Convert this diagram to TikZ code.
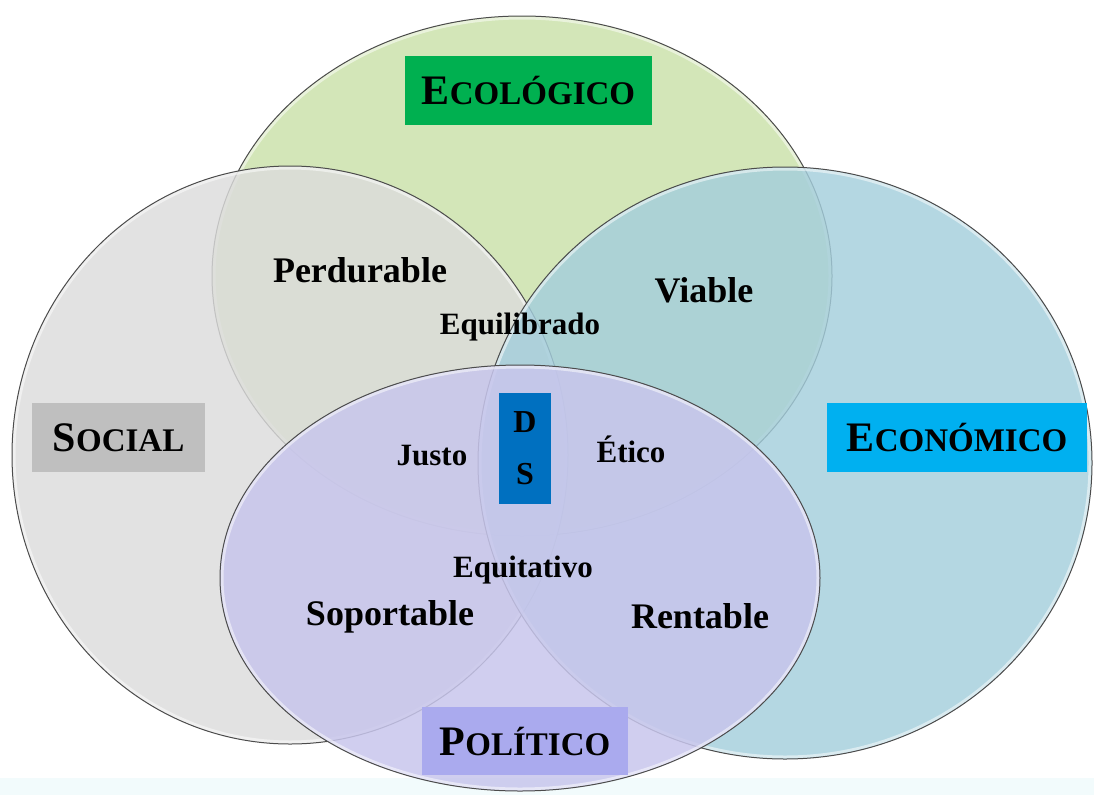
\documentclass[tikz,border=0pt]{standalone}
\usepackage{fontspec}
\setmainfont{Liberation Serif}

\definecolor{ecofill}{RGB}{211,230,184}
\definecolor{socfill}{RGB}{220,220,220}
\definecolor{econfill}{RGB}{164,206,220}
\definecolor{polfill}{RGB}{200,198,236}
\definecolor{ecotag}{RGB}{0,176,80}
\definecolor{soctag}{RGB}{191,191,191}
\definecolor{econtag}{RGB}{0,176,240}
\definecolor{poltag}{RGB}{170,170,238}
\definecolor{dstag}{RGB}{0,112,192}
\definecolor{bottomtint}{RGB}{242,251,252}

% big first letter, the rest in smaller capitals
\newcommand\capword[2]{{\fontsize{42}{44}\selectfont #1}{\fontsize{33}{36}\selectfont #2}}

\begin{document}
\begin{tikzpicture}[x=1pt, y=-1pt, font=\bfseries,
  ring/.style={draw=black!70, line width=1pt},
  rim/.style={draw=white, line width=3pt, draw opacity=0.5},
  tag/.style={inner sep=0pt, text height=28pt, text depth=0pt, minimum height=69pt},
  word/.style={anchor=base, font=\bfseries\fontsize{36}{40}\selectfont},
  small/.style={anchor=base, font=\bfseries\fontsize{31}{34}\selectfont}]

\useasboundingbox (0,0) rectangle (1094,795);
\fill[bottomtint] (0,778) rectangle (1094,795);

% the four sets: ecologico, social, economico, politico
\foreach \cx/\cy/\rx/\ry/\col/\op in {522/276/310/260/ecofill/1,
    290/455/278/289/socfill/0.82,
    785/463/307/296/econfill/0.82,
    520/578/300/213/polfill/0.86}
{
\fill[\col, fill opacity=\op] (\cx,\cy) ellipse [x radius=\rx pt, y radius=\ry pt];
\draw[rim] (\cx,\cy) ellipse [x radius=\rx pt - 2pt, y radius=\ry pt - 2pt];
\draw[ring] (\cx,\cy) ellipse [x radius=\rx pt, y radius=\ry pt];
}

% set names
\node[tag, fill=ecotag, minimum width=247pt] (ecotag) at (528.5,90) {\capword{E}{COLÓGICO}};
\node[tag, fill=soctag, minimum width=173pt] (soctag) at (118.5,437.5) {\capword{S}{OCIAL}};
\node[tag, fill=econtag, minimum width=260pt] (econtag) at (957,437.5) {\capword{E}{CONÓMICO}};
\node[tag, fill=poltag, minimum width=206pt, minimum height=68pt] (poltag) at (525,741) {\capword{P}{OLÍTICO}};

% centre
\node[fill=dstag, minimum width=52pt, minimum height=111pt, inner sep=0pt,
  align=center, font=\bfseries\fontsize{32}{52}\selectfont] (ds) at (525,448.5) {D\\S};

% overlaps
\node[word] (perdurable) at (360,282) {Perdurable};
\node[word] (viable) at (704,302) {Viable};
\node[small] (equilibrado) at (520,334) {Equilibrado};
\node[small] (justo) at (432,465) {Justo};
\node[small] (etico) at (631,462) {Ético};
\node[small] (equitativo) at (523,577) {Equitativo};
\node[word] (soportable) at (390,625) {Soportable};
\node[word] (rentable) at (700,628) {Rentable};
\end{tikzpicture}
\end{document}
